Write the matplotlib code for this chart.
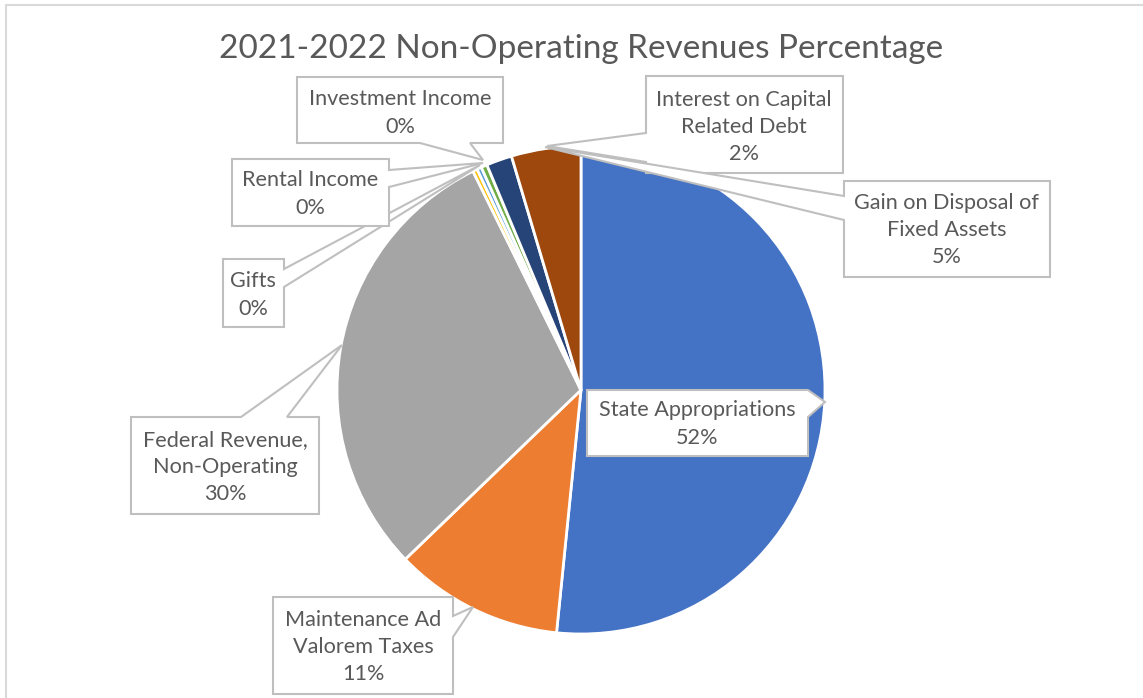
import matplotlib
matplotlib.use("Agg")
import matplotlib.pyplot as plt
from matplotlib.patches import Polygon

categories = ["State Appropriations", "Maintenance Ad\nValorem Taxes",
              "Federal Revenue,\nNon-Operating", "Gifts", "Rental Income",
              "Investment Income", "Interest on Capital\nRelated Debt",
              "Gain on Disposal of\nFixed Assets"]
values = [51.6, 11.2, 29.9, 0.3, 0.3, 0.4, 1.7, 4.6]
colors = ["#4472C4", "#ED7D31", "#A5A5A5", "#FFC000", "#5B9BD5",
          "#70AD47", "#264478", "#9E480E"]
title = "2021-2022 Non-Operating Revenues Percentage"

W, H = 1143, 698
fig = plt.figure(figsize=(W / 100, H / 100), dpi=100)
ax = fig.add_axes([0, 0, 1, 1])

def Y(y):
    return H - y

ax.pie(values, colors=colors, startangle=90, counterclock=False,
       center=(581, Y(390)), radius=244,
       wedgeprops=dict(edgecolor="white", linewidth=2.0))
ax.set_xlim(0, W)
ax.set_ylim(0, H)
ax.set_aspect("equal")
ax.axis("off")

# chart border (top + left)
ax.plot([6, 6, W], [0, Y(5), Y(5)], color="#D9D9D9", lw=1.5, solid_capstyle="butt")

ax.text(581, Y(49), title, ha="center", va="center", fontsize=24,
        color="#595959", family=["Lato", "DejaVu Sans"])

total = sum(values)
pct = [f"{round(v / total * 100):.0f}%" for v in values]

# callout shapes (pixel coordinates of the label boxes)
callouts = {
    0: [(587, 390), (808, 390), (825, 402), (808, 417), (808, 456), (587, 456)],
    1: [(273, 597), (453, 597), (453, 616), (473, 607), (453, 637), (453, 694), (273, 694)],
    2: [(131, 417), (241, 417), (342, 345), (287, 417), (319, 417), (319, 514), (131, 514)],
    3: [(223, 259), (284, 259), (284, 269), (480, 165), (284, 287), (284, 327), (223, 327)],
    4: [(232, 159), (389, 159), (389, 170), (483, 163), (389, 187), (389, 226), (232, 226)],
    5: [(297, 77), (503, 77), (503, 143), (470, 143), (483, 160), (420, 143), (297, 143)],
    6: [(646, 76), (843, 76), (843, 173), (646, 173), (646, 162), (547, 146), (646, 133)],
    7: [(844, 181), (1050, 181), (1050, 277), (844, 277), (844, 220), (545, 147), (844, 196)],
}
text_pos = {0: (697, 424), 1: (363, 647), 2: (225, 467), 3: (253, 295),
            4: (310, 194), 5: (400, 113), 6: (744, 127), 7: (947, 230)}

for i, pts in callouts.items():
    poly = Polygon([(x, Y(y)) for x, y in pts], closed=True, facecolor="white",
                   edgecolor="#BFBFBF", lw=1.5, zorder=5)
    ax.add_patch(poly)
    tx, ty = text_pos[i]
    ax.text(tx, Y(ty), f"{categories[i]}\n{pct[i]}", ha="center", va="center",
            fontsize=15.6, color="#595959", linespacing=1.45, zorder=6,
            family=["Lato", "DejaVu Sans"])

fig.savefig("out.png", dpi=100, facecolor="white")
